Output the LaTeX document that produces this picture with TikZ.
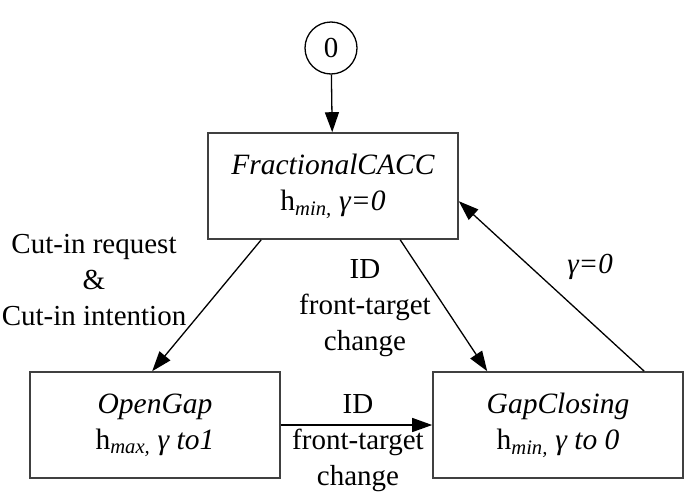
\documentclass[tikz,border=0pt]{standalone}
\usepackage{fontspec}
\setmainfont{Liberation Serif}
\usetikzlibrary{arrows.meta}
\tikzset{
  statebox/.style={draw=black!75, line width=1.6pt, minimum width=250pt, minimum height=106pt, align=center, inner sep=0pt, font=\fontsize{29.5}{36}\selectfont},
  lbl/.style={align=center, inner sep=0pt, font=\fontsize{29}{36}\selectfont},
  conn/.style={line width=1.3pt, -{Triangle[length=20pt,width=14pt]}}
}
\newcommand{\hsub}[1]{h\textsubscript{\itshape #1}}
\begin{document}
\begin{tikzpicture}[x=1pt,y=-1pt]
\useasboundingbox (0,0) rectangle (687,493);
\node[draw, line width=1.3pt, circle, minimum size=52pt, inner sep=0pt, font=\fontsize{29}{36}\selectfont] (s0) at (331,48) {0};
\node[statebox] (fc) at (333,186) {\textit{FractionalCACC}\\\hsub{min,} \textit{γ=0}};
\node[statebox] (og) at (155,425) {\textit{OpenGap}\\\hsub{max,} \textit{γ to1}};
\node[statebox] (gc) at (558,425) {\textit{GapClosing}\\\hsub{min,} \textit{γ to 0}};
\node[lbl] (l1) at (94,280) {Cut-in request\\\&\\Cut-in intention};
\node[lbl] (l2) at (365,308) {ID\\front-target\\change};
\node[lbl] (l3) at (358,443) {ID\\front-target\\change};
\node[lbl] (l4) at (590,267) {\textit{γ=0}};
\draw[conn] (s0) -- (fc);
\draw[conn] ([xshift=54pt]fc.south west) -- ([xshift=123pt]og.north west);
\draw[conn] ([xshift=193pt]fc.south west) -- ([xshift=55pt]gc.north west);
\draw[conn] ([xshift=212pt]gc.north west) -- ([yshift=-69pt]fc.north east);
\draw[conn] (og.east) -- (gc.west);
\end{tikzpicture}
\end{document}
